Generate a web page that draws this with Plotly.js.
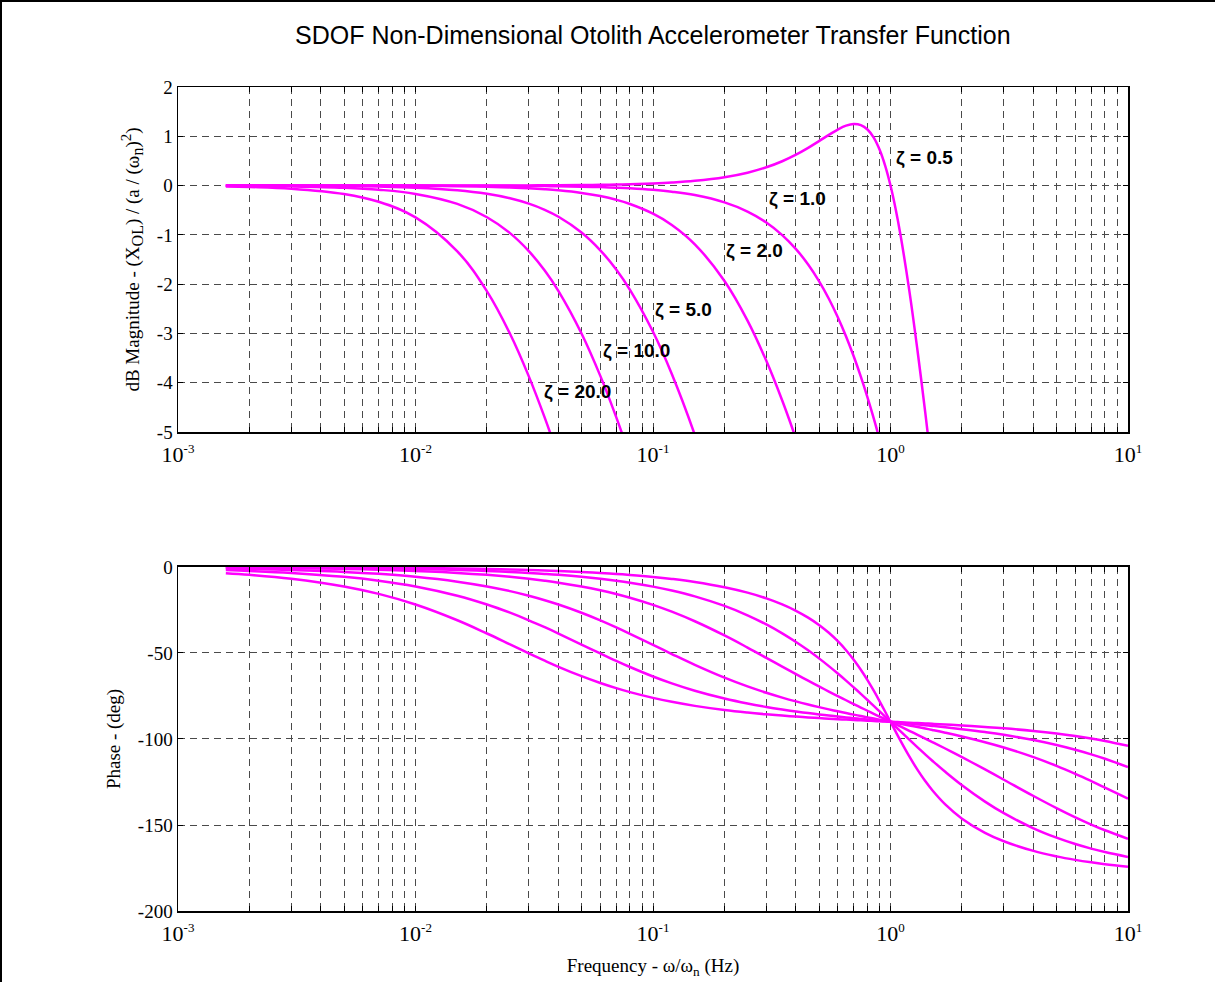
<!DOCTYPE html>
<html>
<head>
<meta charset="utf-8">
<script src="https://cdn.plot.ly/plotly-3.0.1.min.js"></script>
<style>
  html, body { margin: 0; padding: 0; background: #fff; }
  #wrap { position: relative; width: 1215px; height: 982px; }
  #chart { width: 1215px; height: 982px; }
  #frame { position: absolute; left: 0; top: 0; width: 1215px; height: 982px;
           border-left: 2px solid #000; border-top: 2px solid #000; box-sizing: border-box;
           pointer-events: none; }
</style>
</head>
<body>
<div id="wrap"><div id="chart"></div><div id="frame"></div></div>
<script>
// Frequency ratio (omega / omega_n)
const freq = [0.00159, 0.002, 0.003, 0.005, 0.007, 0.01, 0.015, 0.02, 0.025, 0.03, 0.035, 0.04,
  0.05, 0.06, 0.07, 0.08, 0.1, 0.12, 0.15, 0.2, 0.25, 0.3, 0.35, 0.4, 0.45, 0.5, 0.55, 0.6,
  0.65, 0.7, 0.75, 0.8, 0.85, 0.9, 0.95, 1.0, 1.05, 1.1, 1.2, 1.3, 1.4, 1.5, 1.7, 2, 2.5, 3,
  4, 5, 6, 7, 8, 10];

const zetaLabels = ['ζ = 0.5', 'ζ = 1.0', 'ζ = 2.0', 'ζ = 5.0', 'ζ = 10.0', 'ζ = 20.0'];

// dB magnitude (curves run off the bottom of the axis, so they end there)
const magZ05 = [0, 0, 0, 0, 0, 0, 0.001, 0.002, 0.003, 0.004, 0.005, 0.007, 0.011, 0.016, 0.021,
  0.028, 0.043, 0.062, 0.097, 0.170, 0.262, 0.371, 0.494, 0.627, 0.765, 0.902, 1.029, 1.137,
  1.215, 1.249, 1.227, 1.137, 0.972, 0.726, 0.400, 0, -0.465, -0.983, -2.131, -3.357, -4.596, -5.812];
const magZ1 = [0, 0, -0.0001, -0.0002, -0.0004, -0.0009, -0.002, -0.0035, -0.0054, -0.0078,
  -0.0106, -0.0139, -0.0217, -0.0312, -0.0425, -0.0554, -0.0864, -0.124, -0.193, -0.341, -0.527,
  -0.749, -1.004, -1.289, -1.601, -1.938, -2.296, -2.671, -3.061, -3.464, -3.876, -4.297, -4.723,
  -5.154, -5.587];
const magZ2 = [-0.0002, -0.0002, -0.0005, -0.0015, -0.003, -0.0061, -0.0137, -0.0243, -0.0378,
  -0.0544, -0.0738, -0.0962, -0.1494, -0.2135, -0.288, -0.373, -0.570, -0.798, -1.191, -1.936,
  -2.739, -3.556, -4.362, -5.139, -5.884];
const magZ5 = [-0.0011, -0.0017, -0.0038, -0.0106, -0.0208, -0.0424, -0.0947, -0.167, -0.258,
  -0.367, -0.492, -0.633, -0.952, -1.313, -1.703, -2.115, -2.967, -3.823, -5.059, -6.921];
const magZ10 = [-0.0044, -0.0069, -0.0155, -0.043, -0.0839, -0.1695, -0.3725, -0.642, -0.965,
  -1.330, -1.725, -2.140, -3.000, -3.861, -4.699, -5.499, -6.972];
const magZ20 = [-0.0175, -0.0277, -0.062, -0.170, -0.3275, -0.644, -1.334, -2.146, -3.007,
  -3.871, -4.709, -5.511, -6.985];

// Phase (deg)
const phZ05 = [-0.091, -0.115, -0.172, -0.286, -0.401, -0.573, -0.859, -1.146, -1.433, -1.720,
  -2.007, -2.294, -2.869, -3.446, -4.024, -4.603, -5.768, -6.942, -8.724, -11.768, -14.931,
  -18.247, -21.747, -25.463, -29.434, -33.690, -38.259, -43.152, -48.382, -53.923, -59.744,
  -65.772, -71.921, -78.079, -84.140, -90, -95.58, -100.81, -110.14, -117.96, -124.44, -129.81,
  -138.03, -146.31, -154.54, -159.44, -165.07, -168.23, -170.27, -171.70, -172.76, -174.23];
const phZ1 = [-0.182, -0.229, -0.344, -0.573, -0.802, -1.146, -1.718, -2.291, -2.864, -3.437,
  -4.009, -4.581, -5.725, -6.867, -8.008, -9.148, -11.421, -13.686, -17.062, -22.620, -28.072,
  -33.398, -38.580, -43.603, -48.455, -53.130, -57.622, -61.928, -66.048, -69.984, -73.740,
  -77.320, -80.730, -83.974, -87.062, -90, -92.79, -95.45, -100.39, -104.86, -108.92, -112.62,
  -119.07, -126.87, -136.40, -143.13, -151.93, -157.38, -161.08, -163.74, -165.75, -168.58];
const phZ2 = [-0.364, -0.458, -0.688, -1.146, -1.604, -2.291, -3.434, -4.576, -5.714, -6.848,
  -7.980, -9.105, -11.337, -13.542, -15.716, -17.851, -22.000, -25.967, -31.543, -39.806, -46.848,
  -52.825, -57.921, -62.301, -66.104, -69.444, -72.409, -75.069, -77.477, -79.677, -81.703,
  -83.581, -85.334, -86.979, -88.530, -90, -91.40, -92.73, -95.24, -97.56, -99.73, -101.77,
  -105.53, -110.56, -117.70, -123.69, -133.15, -140.19, -145.56, -149.74, -153.07, -158.00];
const phZ5 = [-0.911, -1.146, -1.718, -2.862, -4.004, -5.711, -8.531, -11.315, -14.044, -16.712,
  -19.313, -21.833, -26.622, -31.055, -35.125, -38.840, -45.288, -50.603, -56.909, -64.359,
  -69.444, -73.126, -75.925, -78.140, -79.950, -81.469, -82.772, -83.912, -84.923, -85.833,
  -86.662, -87.423, -88.130, -88.790, -89.412, -90, -90.56, -91.09, -92.10, -93.04, -93.92,
  -94.76, -96.34, -98.53, -101.86, -104.93, -110.56, -115.64, -120.26, -124.44, -128.22, -134.71];
const phZ10 = [-1.821, -2.291, -3.434, -5.711, -7.970, -11.310, -16.699, -21.811, -26.579,
  -30.985, -35.027, -38.705, -45.072, -50.295, -54.596, -58.159, -63.664, -67.674, -71.953,
  -76.504, -79.380, -81.376, -82.855, -84.006, -84.936, -85.711, -86.372, -86.947, -87.456,
  -87.914, -88.329, -88.711, -89.065, -89.395, -89.706, -90, -90.28, -90.55, -91.05, -91.52,
  -91.96, -92.39, -93.18, -94.29, -95.99, -97.59, -100.62, -103.50, -106.26, -108.93, -111.49, -116.34];
const phZ20 = [-3.639, -4.574, -6.843, -11.310, -15.642, -21.801, -30.964, -38.674, -45.017,
  -50.218, -54.497, -58.036, -63.492, -67.453, -70.435, -72.750, -76.099, -78.397, -80.747,
  -83.157, -84.644, -85.663, -86.413, -86.995, -87.463, -87.852, -88.184, -88.472, -88.728,
  -88.957, -89.165, -89.355, -89.532, -89.698, -89.853, -90, -90.14, -90.27, -90.53, -90.76,
  -90.98, -91.19, -91.59, -92.15, -93.01, -93.81, -95.36, -96.84, -98.30, -99.73, -101.14, -103.90];

// Tick labels
const decadeExps = [-3, -2, -1, 0, 1];
const magTicks = [-5, -4, -3, -2, -1, 0, 1, 2];
const magTickText = ['-5', '-4', '-3', '-2', '-1', '0', '1', '2'];
const phTicks = [-200, -150, -100, -50, 0];
const phTickText = ['-200', '-150', '-100', '-50', '0'];

// log-axis tick positions (decades + 2..9 subdivisions) used for the dashed grid
const xTickVals = [], xTickText = [];
decadeExps.forEach((e, i) => {
  const base = Math.pow(10, e);
  xTickVals.push(base);
  xTickText.push('10<sup><span style="font-size:13px">' + String(e) + '</span></sup>');
  if (i < decadeExps.length - 1) {
    for (let m = 2; m <= 9; m++) { xTickVals.push(m * base); xTickText.push(''); }
  }
});

const MAGENTA = '#ff00ff';
const mags = [magZ05, magZ1, magZ2, magZ5, magZ10, magZ20];
const phs = [phZ05, phZ1, phZ2, phZ5, phZ10, phZ20];
const traces = [];
mags.forEach((m, i) => traces.push({
  x: freq, y: m, xaxis: 'x', yaxis: 'y', type: 'scatter', mode: 'lines', name: zetaLabels[i],
  line: { color: MAGENTA, width: 2.5, shape: 'spline', smoothing: 1.1 }, hoverinfo: 'skip'
}));
phs.forEach((p, i) => traces.push({
  x: freq, y: p, xaxis: 'x2', yaxis: 'y2', type: 'scatter', mode: 'lines', name: zetaLabels[i],
  line: { color: MAGENTA, width: 2.5, shape: 'spline', smoothing: 1.1 }, hoverinfo: 'skip'
}));

const serif = 'Liberation Serif, Times New Roman, serif';
const sans = 'Liberation Sans, Arial, sans-serif';
const gridCol = '#4a4a4a';

function xAxis(anchor, title) {
  const ax = {
    type: 'log', range: [-3, 1], anchor: anchor, domain: [0, 1],
    tickmode: 'array', tickvals: xTickVals, ticktext: xTickText,
    ticks: 'inside', ticklen: 5, tickwidth: 1, tickcolor: '#000',
    showline: true, linecolor: '#000', linewidth: 1.5, mirror: 'allticks',
    showgrid: true, gridcolor: gridCol, gridwidth: 1, griddash: '7px,5px',
    zeroline: false, tickfont: { family: serif, size: 22, color: '#000' }, ticklabelstandoff: 2
  };
  if (title) ax.title = { text: title, font: { family: serif, size: 19, color: '#000' }, standoff: 14 };
  return ax;
}
function yAxis(domain, range, vals, text, title) {
  return {
    domain: domain, range: range, anchor: domain[0] > 0.3 ? 'x' : 'x2',
    tickmode: 'array', tickvals: vals, ticktext: text,
    ticks: 'inside', ticklen: 5, tickwidth: 1, tickcolor: '#000',
    showline: true, linecolor: '#000', linewidth: 1.5, mirror: 'allticks',
    showgrid: true, gridcolor: gridCol, gridwidth: 1, griddash: '7px,5px',
    zeroline: false, tickfont: { family: serif, size: 19, color: '#000' },
    title: { text: title, font: { family: serif, size: 19, color: '#000' }, standoff: 12 }
  };
}

// label anchor points inside the magnitude panel
const labelPos = [[1.39, 0.56], [0.406, -0.27], [0.267, -1.33], [0.1343, -2.52], [0.0853, -3.36], [0.0481, -4.19]];
const annotations = zetaLabels.map((t, i) => ({
  x: Math.log10(labelPos[i][0]), y: labelPos[i][1], xref: 'x', yref: 'y', text: '<b>' + t + '</b>',
  showarrow: false, xanchor: 'center', yanchor: 'middle',
  font: { family: sans, size: 19, color: '#000' }
}));

const layout = {
  width: 1215, height: 982,
  margin: { l: 178, r: 87, t: 87, b: 71 },
  paper_bgcolor: '#fff', plot_bgcolor: '#fff',
  showlegend: false,
  title: {
    text: 'SDOF Non-Dimensional Otolith Accelerometer Transfer Function',
    font: { family: sans, size: 25, color: '#000' },
    x: 0.5373, xref: 'container', xanchor: 'center', y: 1 - 35 / 982, yref: 'container', yanchor: 'middle'
  },
  xaxis: xAxis('y', null),
  yaxis: yAxis([0.5813, 1], [-5, 2], magTicks, magTickText,
    'dB Magnitude - (X<sub><span style="font-size:16px">OL</span></sub>) / (a / (ω<sub><span style="font-size:16px">n</span></sub>)<sup><span style="font-size:15px">2</span></sup>)'),
  xaxis2: xAxis('y2', 'Frequency - ω/ω<sub>n</sub> (Hz)'),
  yaxis2: yAxis([0, 0.4175], [-200, 0], phTicks, phTickText, 'Phase - (deg)'),
  annotations: annotations
};

Plotly.newPlot('chart', traces, layout, { staticPlot: true, displayModeBar: false });
</script>
</body>
</html>
